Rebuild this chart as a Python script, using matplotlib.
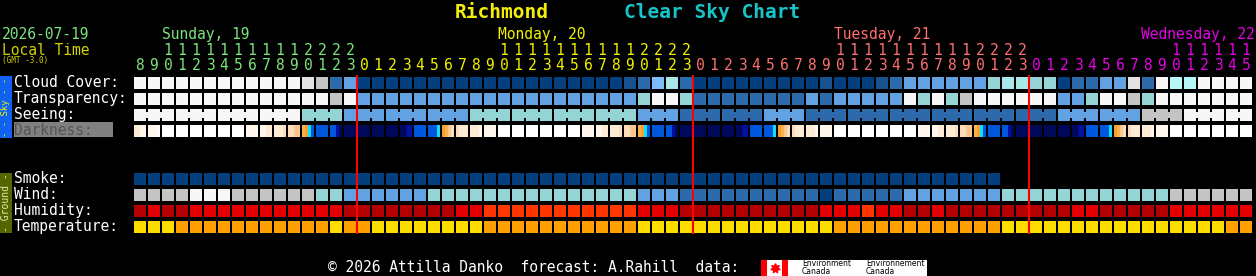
import matplotlib
matplotlib.use("Agg")
import matplotlib.pyplot as plt
from matplotlib.patches import Rectangle

# one column per forecast hour: Sunday 08h .. Wednesday 15h (local time)
hours = list(range(8, 24)) + list(range(24)) + list(range(24)) + list(range(16))
day_names = ['Sunday, 19', 'Monday, 20', 'Tuesday, 21', 'Wednesday, 22']
day_colors = ['#7ce47c', '#f2f200', '#ff6f6f', '#e600e6']
day_len = [16, 24, 24, 16]

# colour codes, one char per hour
cloud = ('WWWWWWWWWWWW9824' '0000000000000000000' '12572' '000000000' '1' '000'
         '12' '444444' '67766' '0224492' 'WccWWWW')
transp = ('WWWWWWWWWWWWWW8W' '44444444444444444444' '6WW6' '22222222' '42'
          '44444' 'W6W68' 'WWWWWW' '446WW86' 'WWWWWWW')
seeing = ('WWWWWWWWWWWW' '666' '444444444' '666666666666' '444' '222222' '444'
          '222222222222222222' '444444' '888' 'WWWWW')
# darkness: 4 chars per hour (quarter hours)
darkness = [
    'ccvv vvvW WWWW WWWW WWWW WWWW WWWW WWWW vvvv vvcc cccp ppqq oOyB BBBB BBdn nnnn',
    'nnnn nnnn nnnn nndd BBBB BBBy Ooqp pccc cccv vvvv WWWW WWWW WWWW WWWW WWWW WWWW '
    'vvvv vvcc cccp ppqq oOyB BBBB BBdn nnnn',
    'nnnn nnnn nnnn nndd BBBB BBBy Ooqp pccc cccv vvvv WWWW WWWW WWWW WWWW WWWW WWWW '
    'vvvv vvcc cccp ppqq oOyB BBBB BBdn nnnn',
    'nnnn nnnn nnnn nndd BBBB BBBy Ooqp pccc cccv vvvv WWWW WWWW WWWW WWWW WWWW WWWW',
]
darkness = ''.join(darkness).replace(' ', '')
smoke = ('00000000000000000000000000000000000000000000000000000000000000'
         '..................')
wind = ('8888WWW88888866' '444444' '666666666666666' '444' '2222222222' '0'
        '22222' '4444444' '666666666666' '888888')
humidity = ('DRDD' 'RRRRRRRRRRR' 'DDDDDDDD' 'RR' 'OOOOOOOOOOO' 'RRR' 'DDDDDDDDDD'
            'RRR' 'O' 'RR' 'DD' 'R' 'DDDDDDDDD' 'RR' 'DDDDD' 'RRRRRR')
temperature = ('YYY' 'OOOOOOOOOOO' 'Y' 'OO' 'YYYYYYYY' 'OOOOOOOOOOO' 'YYYYYYYYYYYYYY'
               'OOOOOOOOOOOO' 'YYYYYYYYYYYYYYYY' 'OO')

blues = {'0': '#033f7f', '1': '#15528f', '2': '#2c6aac', '3': '#4f8fcf',
         '4': '#63a2e2', '5': '#7cbcfa', '6': '#95d4d4', '7': '#aae8e8',
         'c': '#b6f6f6', '8': '#c4c4c4', '9': '#e4e4e4', 'W': '#f7f7f7'}
dark_pal = {'W': '#ffffff', 'v': '#fff6ec', 'c': '#feebd6', 'p': '#fddcb8',
            'q': '#fcc890', 'o': '#f9b050', 'O': '#f5a030', 'y': '#10e0ff',
            'B': '#0055dd', 'b': '#0038c0', 'd': '#0010a0', 'n': '#00085a'}
hum_pal = {'D': '#b40000', 'R': '#e40000', 'O': '#ff3600'}
temp_pal = {'Y': '#ffdc00', 'O': '#ffa000'}

X0, STEP, CELL = 134, 14, 12
MONO = 'DejaVu Sans Mono'

fig = plt.figure(figsize=(12.56, 2.76), dpi=100, facecolor='black')
ax = fig.add_axes([0, 0, 1, 1])
ax.set_facecolor('black')
ax.set_xlim(0, 1256)
ax.set_ylim(276, 0)
ax.axis('off')


def draw_row(code, top, pal):
    xs = [X0 + STEP * i for i, ch in enumerate(code) if ch in pal]
    cs = [pal[ch] for ch in code if ch in pal]
    ax.bar(xs, [CELL] * len(xs), width=CELL, bottom=top, align='edge',
           color=cs, linewidth=0)


# sky rows
draw_row(cloud, 77, blues)
draw_row(transp, 93, blues)
draw_row(seeing, 109, blues)
# seeing comes in 3 hour blocks: join cells inside a block
jx = [X0 + STEP * i + CELL for i in range(len(seeing) - 1) if i % 3 != 2]
jc = [blues[seeing[i]] for i in range(len(seeing) - 1) if i % 3 != 2]
ax.bar(jx, [6] * len(jx), width=2, bottom=112, align='edge', color=jc, linewidth=0)

dx = [X0 + STEP * (k // 4) + 3 * (k % 4) for k in range(len(darkness))]
ax.bar(dx, [CELL] * len(dx), width=3, bottom=125, align='edge',
       color=[dark_pal[ch] for ch in darkness], linewidth=0)

# ground rows
draw_row(smoke, 173, blues)
draw_row(wind, 189, blues)
draw_row(humidity, 205, hum_pal)
draw_row(temperature, 221, temp_pal)

# midnight lines
for i in range(1, len(hours)):
    if hours[i] == 0:
        ax.plot([X0 + STEP * i - 1] * 2, [75, 234], color='#ff0000', lw=1.5,
                solid_capstyle='butt')

# header
ax.text(455, 18, 'Richmond', color='#f2ee0a', fontsize=14, fontweight='bold',
        family=MONO, va='baseline')
ax.text(624, 18, 'Clear Sky Chart', color='#18c4c8', fontsize=14, fontweight='bold',
        family=MONO, va='baseline')
ax.text(2, 39, '2026-07-19', color=day_colors[0], fontsize=10.5, family=MONO, va='baseline')
ax.text(2, 55, 'Local Time', color='#d0d000', fontsize=10.5, family=MONO, va='baseline')
ax.text(2, 63, '(GMT -3.0)', color='#d0d000', fontsize=5.5, family=MONO, va='baseline')

start = 0
for name, col, n in zip(day_names, day_colors, day_len):
    for i in range(start, start + n):
        cx = X0 + STEP * i + CELL / 2
        h = hours[i]
        if h >= 10:
            ax.text(cx, 55, str(h // 10), color=col, fontsize=10.5, family=MONO,
                    ha='center', va='baseline')
        ax.text(cx, 70, str(h % 10), color=col, fontsize=10.5, family=MONO,
                ha='center', va='baseline')
    ten = start + hours[start:start + n].index(10)
    nx = X0 + STEP * ten
    if nx + 8.8 * len(name) > 1256:
        ax.text(1255, 39, name, color=col, fontsize=10.5, family=MONO,
                ha='right', va='baseline')
    else:
        ax.text(nx, 39, name, color=col, fontsize=10.5, family=MONO, va='baseline')
    start += n

# row labels
labels = [('Cloud Cover:', 77), ('Transparency:', 93), ('Seeing:', 109),
          ('Smoke:', 173), ('Wind:', 189), ('Humidity:', 205), ('Temperature:', 221)]
for txt, top in labels:
    ax.text(14, top + 10, txt, color='white', fontsize=10.5, family=MONO, va='baseline')
ax.add_patch(Rectangle((14, 122), 99, 15, color='#808080', lw=0))
ax.text(14, 135, 'Darkness:', color='#555555', fontsize=10.5, family=MONO, va='baseline')

# side bars
ax.add_patch(Rectangle((0, 76), 12, 62, color='#1062f2', lw=0))
ax.text(6, 107, '- - Sky - -', color='#f2f200', fontsize=6.5, family=MONO,
        rotation=90, ha='center', va='center')
ax.add_patch(Rectangle((0, 173), 12, 60, color='#556600', lw=0))
ax.text(6, 203, '- Ground -', color='#e8e8b0', fontsize=7, family=MONO,
        rotation=90, ha='center', va='center')

# footer
ax.text(328, 272, '\u00a9 2026 Attilla Danko  forecast: A.Rahill  data:', color='white',
        fontsize=10.5, family=MONO, va='baseline')
ax.add_patch(Rectangle((761, 260), 166, 16, color='white', lw=0))
ax.add_patch(Rectangle((761, 260), 6, 16, color='#ff0000', lw=0))
ax.add_patch(Rectangle((782, 260), 6, 16, color='#ff0000', lw=0))
ax.plot([774.5], [268], marker=(7, 1, 0), color='#ff0000', markersize=7, lw=0)
for tx in (802, 866):
    ax.text(tx, 266, 'Environment' if tx == 802 else 'Environnement', color='black',
            fontsize=5.5, family='DejaVu Sans', va='baseline')
    ax.text(tx, 274, 'Canada', color='black', fontsize=5.5, family='DejaVu Sans',
            va='baseline')

fig.savefig('out.png', dpi=100, facecolor='black')
